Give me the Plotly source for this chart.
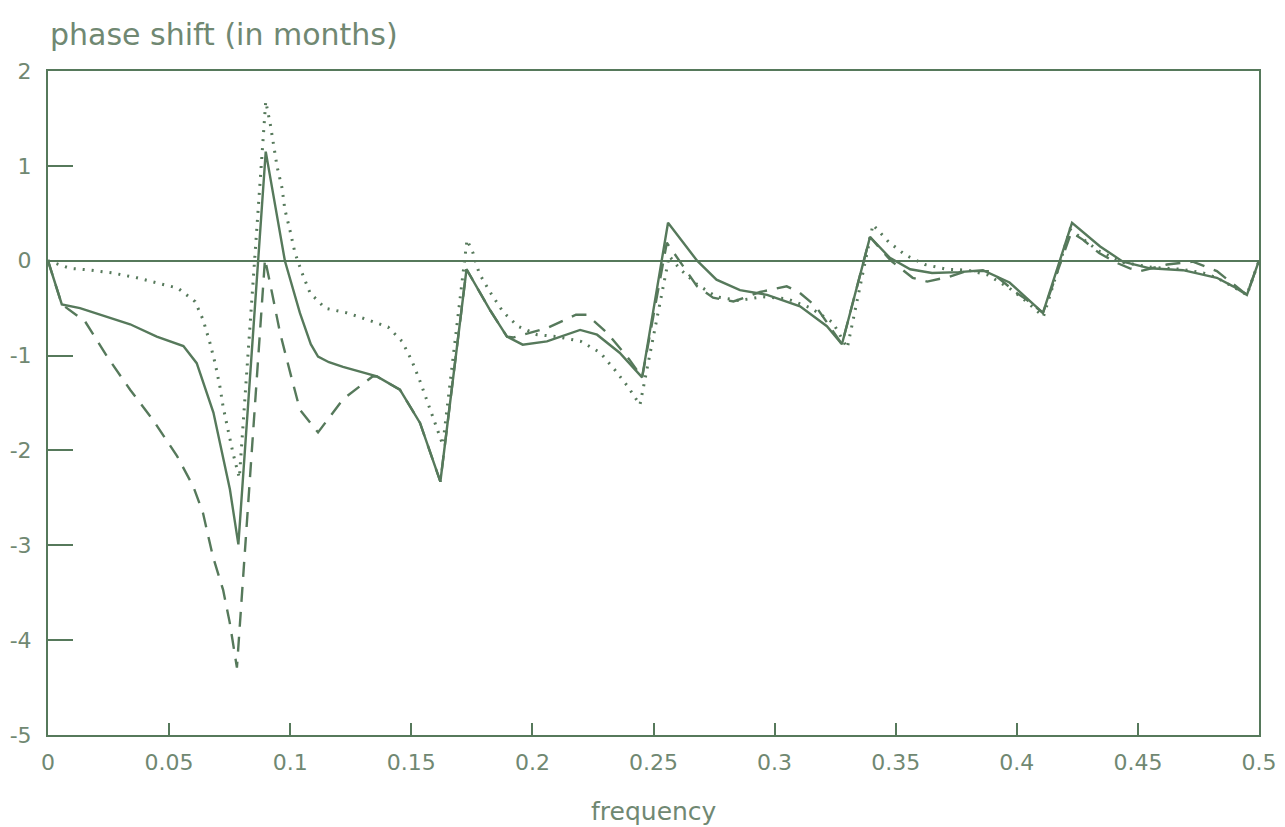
import plotly.graph_objects as go

# ---- data ----
solid_x = [0.000, 0.0057, 0.0132, 0.0242, 0.0339, 0.0449, 0.0559, 0.0614, 0.0683, 0.0751, 0.0786,
           0.0899, 0.0978, 0.104, 0.1085, 0.1115, 0.1160, 0.1218, 0.1358, 0.1453, 0.1536, 0.1620,
           0.1728, 0.1825, 0.1895, 0.196, 0.206, 0.2197, 0.2267, 0.236, 0.2453,
           0.256, 0.268, 0.276, 0.2857, 0.2969, 0.3105, 0.3216, 0.3278,
           0.3394, 0.3476, 0.356, 0.365, 0.376, 0.386, 0.397, 0.4108,
           0.4228, 0.4344, 0.4438, 0.455, 0.4686, 0.4826, 0.4893, 0.495, 0.500]
solid_y = [0.00, -0.46, -0.50, -0.59, -0.67, -0.80, -0.90, -1.08, -1.60, -2.41, -2.99,
           1.15, 0.00, -0.55, -0.88, -1.01, -1.07, -1.12, -1.22, -1.36, -1.71, -2.33,
           -0.09, -0.52, -0.80, -0.885, -0.85, -0.73, -0.78, -0.97, -1.23,
           0.40, 0.00, -0.20, -0.31, -0.36, -0.48, -0.69, -0.88,
           0.25, 0.03, -0.09, -0.13, -0.12, -0.10, -0.23, -0.55,
           0.40, 0.15, -0.01, -0.08, -0.10, -0.18, -0.27, -0.36, 0.00]

dashed_x = [0.000, 0.0057, 0.0153, 0.0244, 0.0339, 0.0434, 0.0533, 0.060, 0.064, 0.0681, 0.0723, 0.075, 0.078,
            0.0896, 0.0925, 0.0958, 0.100, 0.104, 0.1115, 0.1218, 0.1340, 0.1358, 0.1453, 0.1536, 0.1620,
            0.1728, 0.1825, 0.1895, 0.192, 0.206, 0.218, 0.2225, 0.2308, 0.240, 0.2453,
            0.2555, 0.268, 0.2746, 0.283, 0.291, 0.294, 0.305, 0.310, 0.317, 0.3278,
            0.3394, 0.348, 0.357, 0.363, 0.372, 0.379, 0.389, 0.400, 0.404, 0.4108,
            0.4225, 0.4274, 0.434, 0.441, 0.4467, 0.4509, 0.462, 0.4727, 0.4826, 0.488, 0.495, 0.500]
dashed_y = [0.00, -0.46, -0.64, -1.01, -1.36, -1.68, -2.06, -2.38, -2.66, -3.12, -3.47, -3.81, -4.29,
            0.02, -0.34, -0.76, -1.18, -1.57, -1.81, -1.46, -1.22, -1.22, -1.36, -1.71, -2.33,
            -0.09, -0.52, -0.80, -0.81, -0.71, -0.57, -0.57, -0.76, -1.04, -1.23,
            0.19, -0.27, -0.39, -0.43, -0.36, -0.33, -0.27, -0.33, -0.48, -0.88,
            0.25, 0.00, -0.18, -0.22, -0.17, -0.11, -0.11, -0.34, -0.41, -0.55,
            0.30, 0.22, 0.08, -0.02, -0.08, -0.11, -0.04, -0.01, -0.11, -0.22, -0.36, 0.00]

dotted_x = [0.000, 0.009, 0.018, 0.0268, 0.0367, 0.045, 0.0537, 0.0607, 0.064, 0.0669, 0.069, 0.071,
            0.0723, 0.0743, 0.0764, 0.0790,
            0.0899, 0.0917, 0.093, 0.0946, 0.0966, 0.0978, 0.100, 0.102, 0.1049, 0.1082, 0.1144,
            0.1234, 0.1317, 0.1404, 0.1462, 0.1503, 0.1536, 0.1569, 0.1598, 0.1630,
            0.1730, 0.1755, 0.178, 0.1825, 0.1879, 0.194, 0.202, 0.210, 0.220, 0.228, 0.234, 0.2395, 0.2444,
            0.2565, 0.261, 0.268, 0.276, 0.285, 0.295, 0.305, 0.315, 0.324, 0.330,
            0.3406, 0.347, 0.354, 0.362, 0.371, 0.380, 0.388, 0.397, 0.404, 0.411,
            0.422, 0.434, 0.444, 0.456, 0.468, 0.477, 0.4826, 0.489, 0.495, 0.500]
dotted_y = [0.00, -0.08, -0.10, -0.13, -0.18, -0.23, -0.29, -0.43, -0.62, -0.87, -1.08, -1.33,
            -1.54, -1.78, -2.03, -2.29,
            1.68, 1.45, 1.22, 0.99, 0.77, 0.54, 0.31, 0.08, -0.13, -0.34, -0.50,
            -0.55, -0.62, -0.70, -0.85, -1.06, -1.27, -1.50, -1.71, -1.94,
            0.22, 0.08, -0.13, -0.33, -0.54, -0.69, -0.78, -0.80, -0.85, -0.97, -1.15, -1.33, -1.52,
            0.05, -0.09, -0.25, -0.38, -0.42, -0.38, -0.40, -0.50, -0.65, -0.92,
            0.38, 0.20, 0.06, -0.04, -0.09, -0.10, -0.15, -0.29, -0.43, -0.59,
            0.33, 0.10, -0.02, -0.07, -0.09, -0.13, -0.18, -0.27, -0.36, 0.00]

x_tick_vals = [0, 0.05, 0.1, 0.15, 0.2, 0.25, 0.3, 0.35, 0.4, 0.45, 0.5]
x_tick_text = ["0", "0.05", "0.1", "0.15", "0.2", "0.25", "0.3", "0.35", "0.4", "0.45", "0.5"]
y_tick_vals = [2, 1, 0, -1, -2, -3, -4, -5]
y_tick_text = ["2", "1", "0", "-1", "-2", "-3", "-4", "-5"]

title_text = "phase shift (in months)"
x_title = "frequency"

# ---- style ----
LINE = "rgb(86,121,91)"
TEXT = "rgb(112,136,114)"
FONT = "DejaVu Sans"

fig = go.Figure()
fig.add_trace(go.Scatter(x=solid_x, y=solid_y, mode="lines",
                         line=dict(color=LINE, width=2.4), showlegend=False))
fig.add_trace(go.Scatter(x=dashed_x, y=dashed_y, mode="lines",
                         line=dict(color=LINE, width=2.4, dash="15px,10px"), showlegend=False))
fig.add_trace(go.Scatter(x=dotted_x, y=dotted_y, mode="lines",
                         line=dict(color=LINE, width=3, dash="2px,7px"), showlegend=False))

# page body adds an 8px offset; plot area ends up at x 48..1259, y 71..735 on screen
fig.update_layout(
    width=1269, height=819,
    margin=dict(l=40, r=18, t=63, b=92, autoexpand=False),
    paper_bgcolor="white", plot_bgcolor="white",
    font=dict(family=FONT, color=TEXT, size=20),
    annotations=[
        dict(text=title_text, xref="paper", yref="paper",
             x=0, y=1 + 36 / 664, xanchor="left", yanchor="middle",
             showarrow=False, font=dict(family=FONT, size=30, color=TEXT)),
        dict(text=x_title, xref="paper", yref="paper",
             x=0.5, y=-76 / 664, xanchor="center", yanchor="middle",
             showarrow=False, font=dict(family=FONT, size=25, color=TEXT)),
    ],
)
fig.update_xaxes(range=[0, 0.5], tickvals=x_tick_vals, ticktext=x_tick_text,
                 ticks="inside", ticklen=12, tickwidth=1.5, tickcolor=LINE,
                 showline=True, linecolor=LINE, linewidth=2, mirror=True,
                 showgrid=False, zeroline=False, ticklabelstandoff=7, automargin=False,
                 tickfont=dict(size=22))
fig.update_yaxes(range=[-5, 2], tickvals=y_tick_vals, ticktext=y_tick_text,
                 ticks="inside", ticklen=25, tickwidth=1.5, tickcolor=LINE,
                 showline=True, linecolor=LINE, linewidth=2, mirror=True,
                 showgrid=False, zeroline=True, zerolinecolor=LINE, zerolinewidth=2,
                 ticklabelstandoff=10, automargin=False, tickfont=dict(size=22))

fig.write_html("out.html")
